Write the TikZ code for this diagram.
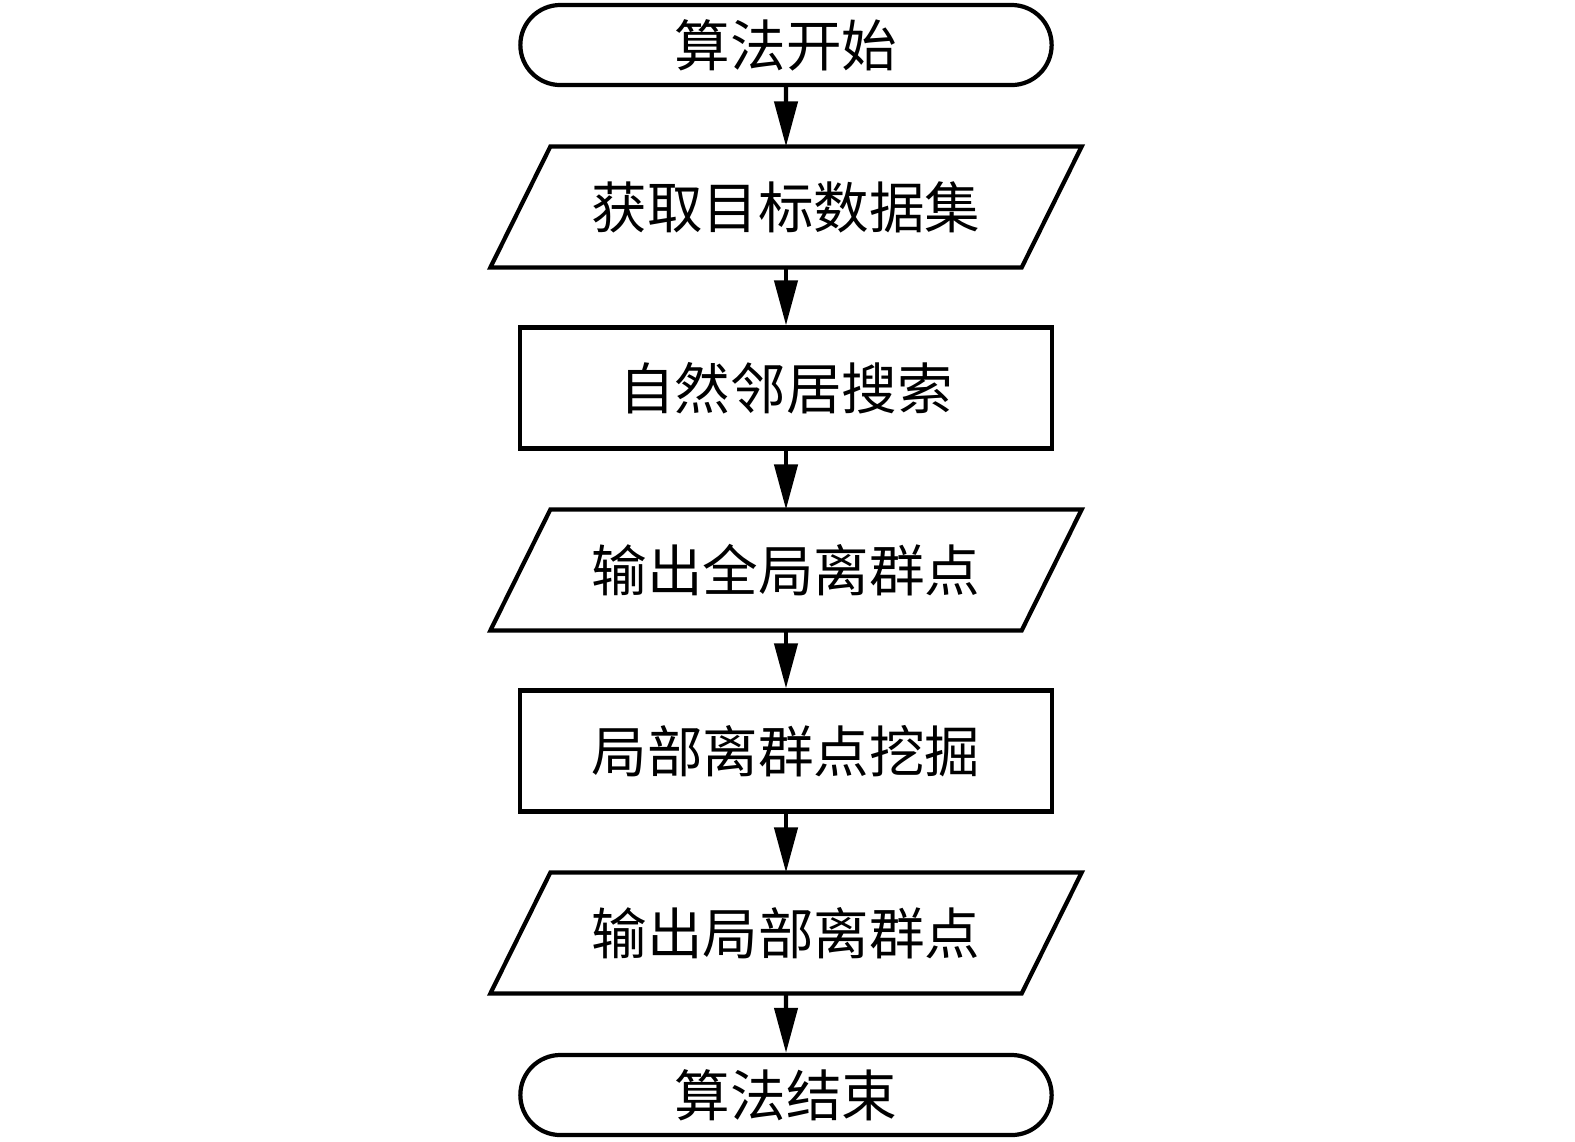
\documentclass[tikz,border=0pt]{standalone}
\usepackage{fontspec}
\newfontfamily\cjk{Noto Sans CJK SC}
\usetikzlibrary{arrows.meta,shapes.misc}
\begin{document}
\begin{tikzpicture}[x=0.01cm,y=-0.01cm,
  every node/.style={font=\cjk\fontsize{15.8pt}{18pt}\selectfont, line width=1.2pt, draw=black, inner sep=0pt},
  term/.style={rounded rectangle, minimum width=5.31cm, minimum height=0.80cm},
  proc/.style={rectangle, minimum width=5.31cm, minimum height=1.21cm},
  io/.style={rectangle, draw=none, outer sep=0pt, minimum width=5.31cm, minimum height=1.21cm},
  iobox/.style={line width=1.2pt, line join=miter},
  arr/.style={line width=1.2pt, -{Triangle[length=4.5mm, width=2.3mm]}}
]
\useasboundingbox (0,0) rectangle (1575,1141);
\node[term] (s) at (786,45) {算法开始};
\node[io] (a) at (786,207) {获取目标数据集};
\node[proc] (b) at (786,388) {自然邻居搜索};
\node[io] (c) at (786,570) {输出全局离群点};
\node[proc] (d) at (786,751) {局部离群点挖掘};
\node[io] (e) at (786,933) {输出局部离群点};
\node[term] (t) at (786,1095) {算法结束};
\foreach \n in {a,c,e}{
  \draw[iobox] ([xshift=0.30cm]\n.north west) -- ([xshift=0.30cm]\n.north east)
    -- ([xshift=-0.30cm]\n.south east) -- ([xshift=-0.30cm]\n.south west) -- cycle;
}
\draw[arr] (s) -- (a);
\draw[arr] (a) -- (b);
\draw[arr] (b) -- (c);
\draw[arr] (c) -- (d);
\draw[arr] (d) -- (e);
\draw[arr] (e) -- (t);
\end{tikzpicture}
\end{document}
